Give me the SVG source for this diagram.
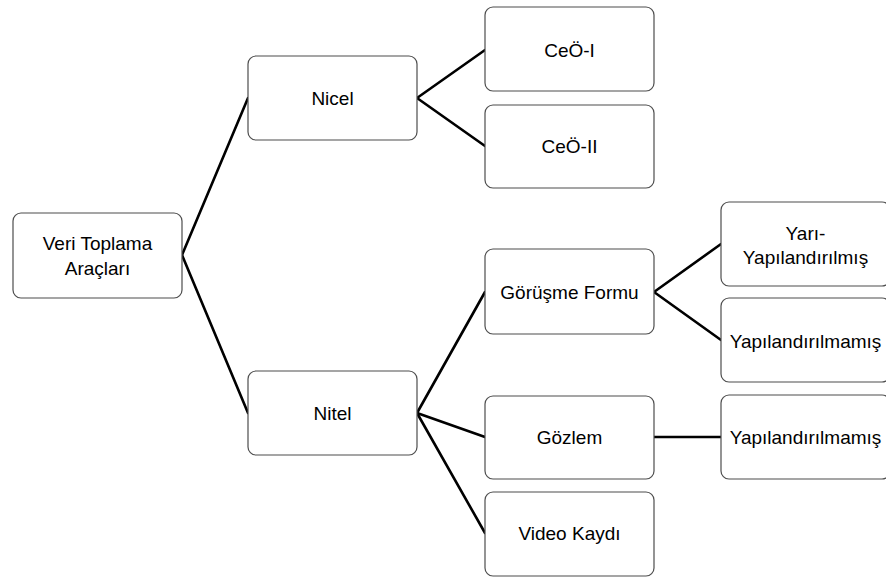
<svg xmlns="http://www.w3.org/2000/svg" width="886" height="579" viewBox="0 0 886 579">
  <style>
    .box { fill: #ffffff; stroke: #4d4d4d; stroke-width: 1.2; }
    .lbl { font-family: "Liberation Sans", Arial, sans-serif; font-size: 19px; fill: #000000; text-anchor: middle; }
    .link { stroke: #000000; stroke-width: 2.6; fill: none; stroke-linecap: round; }
  </style>
  <rect x="0" y="0" width="886" height="579" fill="#ffffff"/>

  <!-- connectors -->
  <g id="connectors">
    <line class="link" x1="182" y1="255" x2="248" y2="98"/>
    <line class="link" x1="182" y1="255" x2="248" y2="413"/>
    <line class="link" x1="417" y1="98" x2="485" y2="50"/>
    <line class="link" x1="417" y1="98" x2="485" y2="146"/>
    <line class="link" x1="417" y1="413" x2="485" y2="292"/>
    <line class="link" x1="417" y1="413" x2="485" y2="437"/>
    <line class="link" x1="417" y1="413" x2="485" y2="533"/>
    <line class="link" x1="654" y1="292" x2="721" y2="244"/>
    <line class="link" x1="654" y1="292" x2="721" y2="340"/>
    <line class="link" x1="654" y1="437" x2="721" y2="437"/>
  </g>

  <!-- nodes -->
  <g id="node-root">
    <rect class="box" x="13" y="213" width="169" height="85" rx="8"/>
    <text class="lbl" x="97.5" y="250">Veri Toplama</text>
    <text class="lbl" x="97.5" y="275">Araçları</text>
  </g>
  <g id="node-nicel">
    <rect class="box" x="248" y="56" width="169" height="84" rx="8"/>
    <text class="lbl" x="332.5" y="104.5">Nicel</text>
  </g>
  <g id="node-nitel">
    <rect class="box" x="248" y="371" width="169" height="84" rx="8"/>
    <text class="lbl" x="332.5" y="420">Nitel</text>
  </g>
  <g id="node-ceo1">
    <rect class="box" x="485" y="7" width="169" height="84" rx="8"/>
    <text class="lbl" x="569.5" y="56.5">CeÖ-I</text>
  </g>
  <g id="node-ceo2">
    <rect class="box" x="485" y="105" width="169" height="83" rx="8"/>
    <text class="lbl" x="569.5" y="153">CeÖ-II</text>
  </g>
  <g id="node-gorusme">
    <rect class="box" x="485" y="249" width="169" height="85" rx="8"/>
    <text class="lbl" x="569.5" y="298.5">Görüşme Formu</text>
  </g>
  <g id="node-gozlem">
    <rect class="box" x="485" y="396" width="169" height="83" rx="8"/>
    <text class="lbl" x="569.5" y="443.5">Gözlem</text>
  </g>
  <g id="node-video">
    <rect class="box" x="485" y="492" width="169" height="84" rx="8"/>
    <text class="lbl" x="569.5" y="539.5">Video Kaydı</text>
  </g>
  <g id="node-yari">
    <rect class="box" x="721" y="202" width="169" height="84" rx="8"/>
    <text class="lbl" x="805.5" y="240">Yarı-</text>
    <text class="lbl" x="805.5" y="264">Yapılandırılmış</text>
  </g>
  <g id="node-yap1">
    <rect class="box" x="721" y="298" width="169" height="84" rx="8"/>
    <text class="lbl" x="805.5" y="347.5">Yapılandırılmamış</text>
  </g>
  <g id="node-yap2">
    <rect class="box" x="721" y="395" width="169" height="84" rx="8"/>
    <text class="lbl" x="805.5" y="444">Yapılandırılmamış</text>
  </g>
</svg>
